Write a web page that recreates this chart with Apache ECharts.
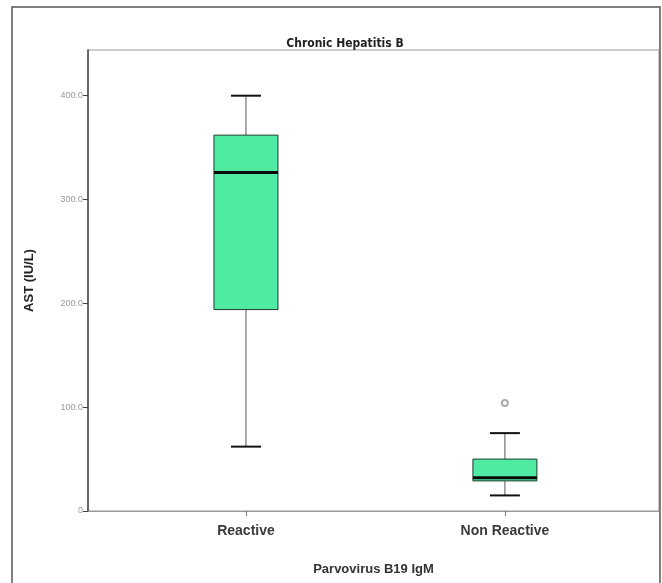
<!DOCTYPE html>
<html>
<head>
<meta charset="utf-8">
<style>
  html, body { margin: 0; padding: 0; background: #fff; }
  #chart { width: 662px; height: 583px; }
</style>
<script src="https://cdn.jsdelivr.net/npm/echarts@6/dist/echarts.min.js"></script>
</head>
<body>
<div id="chart"></div>
<script>
// values (AST, IU/L)
const categories = ['Reactive', 'Non Reactive'];
const lowWhisker = [62, 15];
const q1 = [194, 29];
const median = [326, 32];
const q3 = [362, 50];
const highWhisker = [400, 75];
// outliers: [category index, value]
const outliers = [[1, 104]];

const boxData = categories.map((c, i) => [i, lowWhisker[i], q1[i], median[i], q3[i], highWhisker[i]]);

const chart = echarts.init(document.getElementById('chart'));

function renderBox(params, api) {
  const x = api.value(0);
  const pLow = api.coord([x, api.value(1)]);
  const pQ1 = api.coord([x, api.value(2)]);
  const pMed = api.coord([x, api.value(3)]);
  const pQ3 = api.coord([x, api.value(4)]);
  const pHigh = api.coord([x, api.value(5)]);
  const cx = pLow[0];
  const half = 32;
  const cap = 15;
  return {
    type: 'group',
    children: [
      { type: 'line', shape: { x1: cx, y1: pQ3[1], x2: cx, y2: pHigh[1] }, style: { stroke: '#555', lineWidth: 1 } },
      { type: 'line', shape: { x1: cx, y1: pLow[1], x2: cx, y2: pQ1[1] }, style: { stroke: '#555', lineWidth: 1 } },
      { type: 'line', shape: { x1: cx - cap, y1: pHigh[1], x2: cx + cap, y2: pHigh[1] }, style: { stroke: '#111', lineWidth: 2 } },
      { type: 'line', shape: { x1: cx - cap, y1: pLow[1], x2: cx + cap, y2: pLow[1] }, style: { stroke: '#111', lineWidth: 2 } },
      { type: 'rect', shape: { x: cx - half, y: pQ3[1], width: half * 2, height: pQ1[1] - pQ3[1] },
        style: { fill: '#50eba2', stroke: '#1d3a2b', lineWidth: 1 } },
      { type: 'line', shape: { x1: cx - half, y1: pMed[1], x2: cx + half, y2: pMed[1] }, style: { stroke: '#0a0a0a', lineWidth: 3 } }
    ]
  };
}

const option = {
  animation: false,
  title: {
    text: 'Chronic Hepatitis B',
    left: 340,
    top: 33,
    textAlign: 'center',
    textStyle: { fontFamily: 'DejaVu Sans Condensed', fontSize: 12, fontWeight: 'bold', color: '#222' }
  },
  graphic: [{
    type: 'rect',
    shape: { x: 12, y: 7, width: 648, height: 620 },
    style: { fill: 'none', stroke: '#555', lineWidth: 1.5 },
    silent: true
  }],
  grid: {
    left: 88, right: 3, top: 50, bottom: 72,
    show: true, borderColor: '#999', borderWidth: 1
  },
  xAxis: {
    type: 'value',
    min: -0.61,
    max: 1.595,
    name: 'Parvovirus B19 IgM',
    nameLocation: 'middle',
    nameGap: 52,
    nameTextStyle: { fontFamily: 'Liberation Sans', fontSize: 13, fontWeight: 'bold', color: '#333' },
    splitLine: { show: false },
    axisLine: { show: true, onZero: false, lineStyle: { color: '#999', width: 1 } },
    axisTick: { show: true, customValues: [0, 1], length: 5, lineStyle: { color: '#777' } },
    axisLabel: {
      customValues: [0, 1],
      formatter: v => categories[Math.round(v)],
      margin: 13,
      fontFamily: 'Liberation Sans',
      fontSize: 14,
      fontWeight: 'bold',
      color: '#3a3a3a'
    }
  },
  yAxis: {
    type: 'value',
    min: 0,
    max: 444,
    interval: 100,
    name: 'AST (IU/L)',
    nameLocation: 'middle',
    nameGap: 52,
    nameTextStyle: { fontFamily: 'Liberation Sans', fontSize: 13, fontWeight: 'bold', color: '#222' },
    splitLine: { show: false },
    axisLine: { show: true, onZero: false, lineStyle: { color: '#444', width: 1.5 } },
    axisTick: { show: true, length: 5, lineStyle: { color: '#444' } },
    axisLabel: {
      formatter: v => v === 0 ? '0' : v.toFixed(1),
      showMaxLabel: false,
      fontFamily: 'Liberation Sans',
      fontSize: 9,
      color: '#999',
      margin: 5
    }
  },
  series: [
    {
      type: 'custom',
      renderItem: renderBox,
      data: boxData,
      encode: { x: 0, y: [1, 2, 3, 4, 5] }
    },
    {
      type: 'scatter',
      data: outliers,
      symbol: 'emptyCircle',
      symbolSize: 6,
      itemStyle: { color: '#999', borderWidth: 1 }
    }
  ]
};

chart.setOption(option);
</script>
</body>
</html>
